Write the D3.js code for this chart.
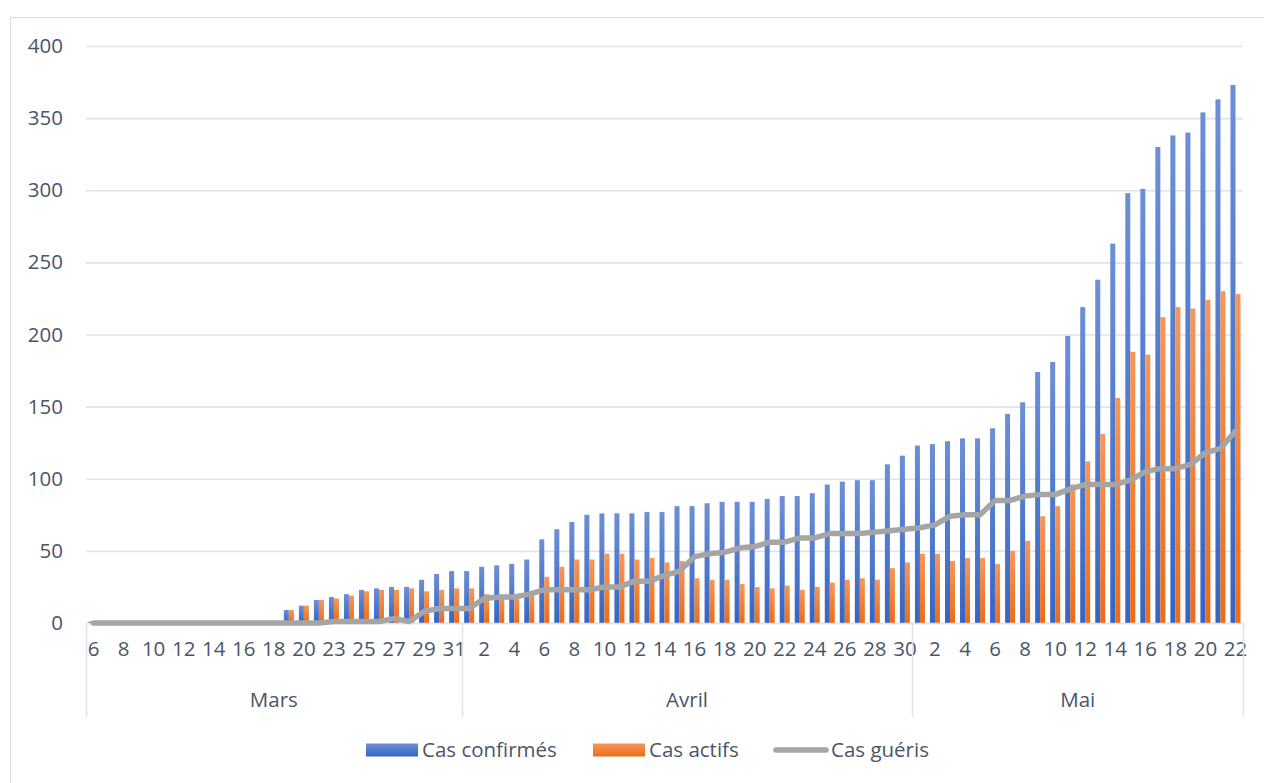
<!DOCTYPE html>
<html>
<head>
<meta charset="utf-8">
<script src="https://cdn.jsdelivr.net/npm/d3@7"></script>
<style>
  html, body { margin: 0; padding: 0; background: #ffffff; }
  svg { display: block; font-family: "Open Sans", "DejaVu Sans", sans-serif; }
</style>
</head>
<body>
<svg id="chart" width="1264" height="783"></svg>
<script>
// ---- Data ----
const months = ["Mars", "Avril", "Mai"];
const daysMars = [6,7,8,9,10,11,12,13,14,15,16,17,18,19,20,21,23,24,25,26,27,28,29,30,31];
const daysAvril = [1,2,3,4,5,6,7,8,9,10,11,12,13,14,15,16,17,18,19,20,21,22,23,24,25,26,27,28,29,30];
const daysMai = [1,2,3,4,5,6,7,8,9,10,11,12,13,14,15,16,17,18,19,20,21,22];

const casConfirmes = [
  1,1,1,1,1,1,1,1,1,1,1,1,1, 9,12,16,18,20,23,24,25,25,30,34,36,
  36,39,40,41,44,58,65,70,75,76,76,76,77,77,81,81,83,84,84,84,86,88,88,90,96,98,99,99,110,116,
  123,124,126,128,128,135,145,153,174,181,199,219,238,263,298,301,330,338,340,354,363,373
];
const casActifs = [
  1,1,1,1,1,1,1,1,1,1,1,1,1, 9,12,16,17,19,22,23,23,24,22,23,24,
  24,20,19,19,20,32,39,44,44,48,48,44,45,42,43,31,30,30,27,25,24,26,23,25,28,30,31,30,38,42,
  48,48,43,45,45,41,50,57,74,81,96,112,131,156,188,186,212,219,218,224,230,228
];
const casGueris = [
  0,0,0,0,0,0,0,0,0,0,0,0,0,0,0,0, 1,1,1,1,3,1,8,10,10,
  10,17,18,18,20,23,23,23,23,25,25,29,29,33,36,46,48,49,52,53,56,56,59,59,62,62,62,63,64,65,
  66,68,74,75,75,85,85,88,89,89,93,96,96,96,99,105,107,107,110,118,121,133
];
const yTicks = [0,50,100,150,200,250,300,350,400];
const seriesNames = ["Cas confirmés", "Cas actifs", "Cas guéris"];

(function () {
// ---- Build categories ----
const monthDays = [daysMars, daysAvril, daysMai];
const cats = [];
monthDays.forEach((days, m) => days.forEach(d => cats.push({ month: m, day: d, i: cats.length })));
const data = cats.map((c, i) => ({ ...c, conf: casConfirmes[i], act: casActifs[i], gue: casGueris[i] }));

// ---- Layout ----
const svg = d3.select("#chart");
const pl = 86, pr = 1243, pt = 46, pb = 623;
const textColor = "#4a5568";
const gridColor = "#dfe3ea";
const fontSize = "20.5px";

const x = d3.scaleBand().domain(d3.range(cats.length)).range([pl, pr]).paddingInner(0).paddingOuter(0);
const y = d3.scaleLinear().domain([0, 400]).range([pb, pt]);
const bw = x.bandwidth() / 3;

// Chart border
svg.append("rect").attr("x", 10.5).attr("y", 17.5).attr("width", 1300).attr("height", 800)
  .attr("fill", "none").attr("stroke", "#d9dde3").attr("stroke-width", 1);

// Gradients
const defs = svg.append("defs");
function grad(id, c1, c2) {
  const g = defs.append("linearGradient").attr("id", id).attr("x1", 0).attr("y1", 0).attr("x2", 0).attr("y2", 1);
  g.append("stop").attr("offset", "0%").attr("stop-color", c1);
  g.append("stop").attr("offset", "100%").attr("stop-color", c2);
}
grad("gBlue", "#6d8fd6", "#3565c4");
grad("gOrange", "#f5975a", "#eb6c1a");

// Gridlines
const yAxis = d3.axisLeft(y).tickValues(yTicks).tickSize(-(pr - pl)).tickPadding(23);
const gy = svg.append("g").attr("transform", `translate(${pl},0)`).call(yAxis);
gy.select(".domain").remove();
gy.selectAll(".tick line").attr("stroke", gridColor).attr("stroke-width", 1.6);
gy.selectAll(".tick text").attr("fill", textColor).style("font-size", fontSize)
  .style("font-family", "'Open Sans', sans-serif");

// Bars
const bars = svg.append("g");
bars.selectAll("rect.conf").data(data).join("rect").attr("class", "conf")
  .attr("x", d => x(d.i) + x.bandwidth() / 2 - bw)
  .attr("width", bw)
  .attr("y", d => y(d.conf))
  .attr("height", d => y(0) - y(d.conf))
  .attr("fill", "url(#gBlue)");
bars.selectAll("rect.act").data(data).join("rect").attr("class", "act")
  .attr("x", d => x(d.i) + x.bandwidth() / 2)
  .attr("width", bw)
  .attr("y", d => y(d.act))
  .attr("height", d => y(0) - y(d.act))
  .attr("fill", "url(#gOrange)");

// X axis line
svg.append("line").attr("x1", pl).attr("x2", pr).attr("y1", pb + 0.5).attr("y2", pb + 0.5)
  .attr("stroke", gridColor).attr("stroke-width", 1.6);

// Line
const line = d3.line().x(d => x(d.i) + x.bandwidth() / 2).y(d => y(d.gue));
svg.append("path").datum(data).attr("d", line)
  .attr("fill", "none").attr("stroke", "#a5a5a5").attr("stroke-width", 5.5)
  .attr("stroke-linejoin", "round").attr("stroke-linecap", "round");

// X axis tick labels (every other category)
const xAxis = d3.axisBottom(x).tickValues(d3.range(0, cats.length, 2)).tickSize(0).tickPadding(18)
  .tickFormat(i => cats[i].day);
const gx = svg.append("g").attr("transform", `translate(0,${pb})`).call(xAxis);
gx.select(".domain").remove();
gx.selectAll(".tick text").attr("fill", textColor).style("font-size", fontSize)
  .style("font-family", "'Open Sans', sans-serif");

// Month groups
let start = 0;
const bounds = [];
monthDays.forEach((days, m) => {
  const x0 = x(start), x1 = x(start + days.length - 1) + x.bandwidth();
  bounds.push({ m, x0, x1 });
  start += days.length;
});
const sepX = [bounds[0].x0, ...bounds.map(b => b.x1)];
svg.append("g").selectAll("line").data(sepX).join("line")
  .attr("x1", d => Math.round(d) + 0.5).attr("x2", d => Math.round(d) + 0.5)
  .attr("y1", pb).attr("y2", 717)
  .attr("stroke", gridColor).attr("stroke-width", 1.6);
svg.append("g").selectAll("text").data(bounds).join("text")
  .attr("x", d => (d.x0 + d.x1) / 2).attr("y", 700).attr("dy", "0.35em")
  .attr("text-anchor", "middle").attr("fill", textColor).style("font-size", fontSize)
  .text(d => months[d.m]);

// Legend
const lg = svg.append("g");
const ly = 750;
lg.append("rect").attr("x", 366).attr("y", ly - 6.5).attr("width", 52).attr("height", 13).attr("fill", "url(#gBlue)");
lg.append("text").attr("x", 422).attr("y", ly).attr("dy", "0.35em").attr("fill", textColor)
  .style("font-size", fontSize).text(seriesNames[0]);
lg.append("rect").attr("x", 593).attr("y", ly - 6.5).attr("width", 52).attr("height", 13).attr("fill", "url(#gOrange)");
lg.append("text").attr("x", 649).attr("y", ly).attr("dy", "0.35em").attr("fill", textColor)
  .style("font-size", fontSize).text(seriesNames[1]);
lg.append("line").attr("x1", 776).attr("x2", 826).attr("y1", ly).attr("y2", ly)
  .attr("stroke", "#a5a5a5").attr("stroke-width", 5.5).attr("stroke-linecap", "round");
lg.append("text").attr("x", 831).attr("y", ly).attr("dy", "0.35em").attr("fill", textColor)
  .style("font-size", fontSize).text(seriesNames[2]);
})();
</script>
</body>
</html>
